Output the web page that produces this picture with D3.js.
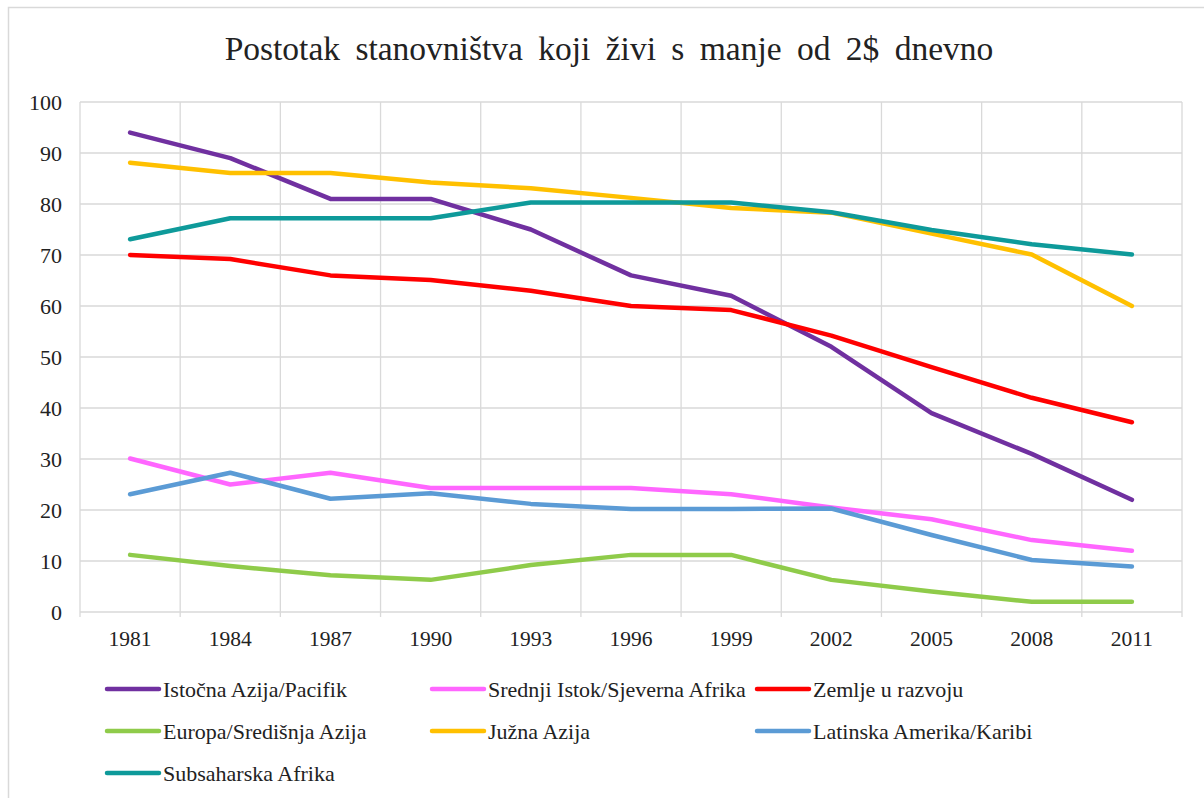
<!DOCTYPE html>
<html>
<head>
<meta charset="utf-8">
<script src="https://cdn.jsdelivr.net/npm/d3@7"></script>
<style>
    body { margin: 0; background: #fff; }
    text { font-family: "Liberation Serif", "Times New Roman", serif; fill: #222; }
    .grid line { stroke: #d9d9d9; stroke-width: 1.3; }
    .series { fill: none; stroke-width: 4.5; stroke-linejoin: round; stroke-linecap: round; }
</style>
</head>
<body>
<div id="chart"></div>
<script>
// categories on the x axis
const years = ["1981", "1984", "1987", "1990", "1993", "1996", "1999", "2002", "2005", "2008", "2011"];
const yTicks = [0, 10, 20, 30, 40, 50, 60, 70, 80, 90, 100];

// series names (legend order)
const names = [
    "Istočna Azija/Pacifik",
    "Srednji Istok/Sjeverna Afrika",
    "Zemlje u razvoju",
    "Europa/Središnja Azija",
    "Južna Azija",
    "Latinska Amerika/Karibi",
    "Subsaharska Afrika"
];

// values (%)
const istocnaAzija   = [94, 89, 81, 81, 75, 66, 62, 52, 39, 31, 22];
const srednjiIstok   = [30.1, 25, 27.3, 24.3, 24.3, 24.3, 23.1, 20.5, 18.2, 14.1, 12];
const zemljeURazvoju = [70, 69.2, 66, 65.1, 63, 60, 59.2, 54.2, 48, 42, 37.2];
const europa         = [11.2, 9, 7.2, 6.3, 9.2, 11.2, 11.2, 6.3, 4, 2, 2];
const juznaAzija     = [88.1, 86.1, 86.1, 84.2, 83.1, 81.2, 79.2, 78.3, 74.2, 70.1, 60];
const latinska       = [23.1, 27.3, 22.2, 23.3, 21.2, 20.2, 20.2, 20.3, 15.1, 10.2, 8.9];
const subsaharska    = [73.1, 77.2, 77.2, 77.2, 80.3, 80.3, 80.3, 78.4, 74.9, 72.1, 70.1];

const seriesValues = [istocnaAzija, srednjiIstok, zemljeURazvoju, europa, juznaAzija, latinska, subsaharska];
const colors = ["#7030A0", "#FF66FF", "#FF0000", "#8FCB4A", "#FFC000", "#5B9BD5", "#0E9A9A"];

/** Class drawing the poverty line chart. */
class PovertyChart {

    constructor() {
        this.width = 1204;
        this.height = 798;
        this.plot = {left: 80, right: 1182, top: 102, bottom: 612};
        this.font = "'Liberation Serif', 'Times New Roman', serif";

        this.svg = d3.select("#chart").append("svg")
            .attr("width", this.width)
            .attr("height", this.height);
    }

    update() {
        let p = this.plot;

        // outer frame
        this.svg.append("rect")
            .attr("x", 8.5).attr("y", 7.5)
            .attr("width", 1300).attr("height", 900)
            .attr("fill", "none")
            .attr("stroke", "#d9d9d9")
            .attr("stroke-width", 1.5);

        this.svg.append("text")
            .attr("x", 609)
            .attr("y", 60)
            .attr("text-anchor", "middle")
            .attr("font-family", this.font)
            .attr("font-size", 33.5)
            .attr("word-spacing", 7)
            .text("Postotak stanovništva koji živi s manje od 2$ dnevno");

        let xBand = d3.scaleBand()
            .domain(years)
            .range([p.left, p.right])
            .paddingInner(0).paddingOuter(0);

        let xScale = d3.scalePoint()
            .domain(years)
            .range([p.left, p.right])
            .padding(0.5);

        let yScale = d3.scaleLinear()
            .domain([0, 100])
            .range([p.bottom, p.top]);

        // grid
        let grid = this.svg.append("g").attr("class", "grid");
        grid.selectAll("line.h")
            .data(yTicks)
            .enter().append("line")
            .attr("class", "h")
            .attr("x1", p.left).attr("x2", p.right)
            .attr("y1", d => yScale(d)).attr("y2", d => yScale(d));

        let vlines = years.map(d => xBand(d)).concat([p.right]);
        grid.selectAll("line.v")
            .data(vlines)
            .enter().append("line")
            .attr("class", "v")
            .attr("x1", d => d).attr("x2", d => d)
            .attr("y1", p.top).attr("y2", p.bottom + 5);

        // y labels
        this.svg.append("g").selectAll("text")
            .data(yTicks)
            .enter().append("text")
            .attr("x", 62)
            .attr("y", d => yScale(d))
            .attr("dy", "0.35em")
            .attr("text-anchor", "end")
            .attr("font-family", this.font)
            .attr("font-size", 22)
            .text(d => d);

        // x labels
        this.svg.append("g").selectAll("text")
            .data(years)
            .enter().append("text")
            .attr("x", d => xScale(d))
            .attr("y", 646)
            .attr("text-anchor", "middle")
            .attr("font-family", this.font)
            .attr("font-size", 21.5)
            .text(d => d);

        // lines
        let line = d3.line()
            .x((d, i) => xScale(years[i]))
            .y(d => yScale(d));

        this.svg.append("g").selectAll("path")
            .data(seriesValues)
            .enter().append("path")
            .attr("class", "series")
            .attr("stroke", (d, i) => colors[i])
            .attr("d", d => line(d));

        // legend, three columns
        let legend = this.svg.append("g").selectAll("g")
            .data(names)
            .enter().append("g")
            .attr("transform", (d, i) => "translate(" + (107 + (i % 3) * 325) + "," + (689 + Math.floor(i / 3) * 42) + ")");

        legend.append("line")
            .attr("x1", 0).attr("x2", 52)
            .attr("y1", 0).attr("y2", 0)
            .attr("stroke", (d, i) => colors[i])
            .attr("stroke-width", 4.5)
            .attr("stroke-linecap", "round");

        legend.append("text")
            .attr("x", 56)
            .attr("y", 0)
            .attr("dy", "0.35em")
            .attr("font-family", this.font)
            .attr("font-size", 22)
            .text(d => d);
    }
}

let chart = new PovertyChart();
chart.update();
</script>
</body>
</html>
